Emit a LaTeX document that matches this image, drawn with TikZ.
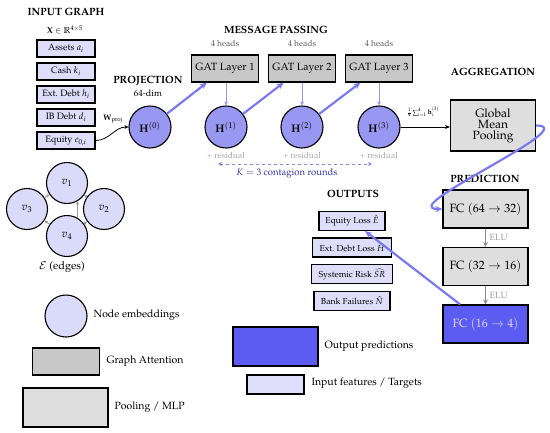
\documentclass[tikz,border=0pt]{standalone}
\usepackage[T1]{fontenc}
\usepackage{amsmath,amssymb}
\usepackage{mathpazo}
\usetikzlibrary{arrows.meta}

\definecolor{lav}{RGB}{222,222,250}
\definecolor{embc}{RGB}{152,152,242}
\definecolor{vcol}{RGB}{218,218,250}
\definecolor{gatc}{RGB}{200,200,200}
\definecolor{poolc}{RGB}{222,222,222}
\definecolor{fcblue}{RGB}{92,92,242}
\definecolor{flowc}{RGB}{122,122,240}
\definecolor{thinc}{RGB}{150,150,240}
\definecolor{kblue}{RGB}{50,50,170}
\definecolor{dashc}{RGB}{130,130,230}

\tikzset{
  ttl/.style={font=\bfseries\fontsize{10.5}{12}\selectfont},
  inbox/.style={draw, line width=1.1, fill=lav, minimum width=58, minimum height=17, inner sep=0, font=\fontsize{9.2}{10}\selectfont},
  outbox/.style={draw, line width=1.1, fill=lav, minimum height=19, inner sep=1, font=\fontsize{8.7}{9}\selectfont},
  embnode/.style={circle, draw, line width=1.1, fill=embc, minimum size=42, inner sep=0, font=\fontsize{11}{13}\selectfont},
  vnode/.style={circle, draw, line width=1.1, fill=vcol, minimum size=41, inner sep=0, font=\fontsize{11}{13}\selectfont},
  gatbox/.style={draw, line width=1.1, fill=gatc, minimum width=67, minimum height=27, inner sep=0, font=\fontsize{10.5}{12}\selectfont},
  poolbox/.style={draw, line width=1.1, fill=poolc, minimum width=85, minimum height=38, inner sep=0, font=\fontsize{12}{13}\selectfont},
  fcblue/.style={draw, line width=1.1, fill=fcblue, minimum width=85, minimum height=38, inner sep=0, font=\fontsize{12}{13}\selectfont, text=vcol},
  heads/.style={font=\fontsize{8.5}{10}\selectfont, text=black!65},
  resid/.style={font=\fontsize{8.5}{10}\selectfont, text=black!35},
  flow/.style={line width=2.2, color=flowc, -{Stealth[length=7,width=6]}},
  thin/.style={line width=0.8, color=thinc, -{Stealth[length=4,width=4]}},
  elu/.style={line width=1.6, color=black!45, -{Stealth[length=5,width=5]}},
  elulbl/.style={right, font=\fontsize{9}{10}\selectfont, text=black!40},
  vedge/.style={line width=0.9, color=black!40, -{Stealth[length=3.5,width=3.5]}},
  legtext/.style={anchor=west, font=\fontsize{10.5}{12}\selectfont},
}

\begin{document}
\begin{tikzpicture}[x=1pt,y=-1pt]
\useasboundingbox (0,0) rectangle (550,432);

% ---- INPUT GRAPH
\node[ttl] (tin) at (66,12) {INPUT GRAPH};
\node[font=\fontsize{8.5}{10}\selectfont] (xin) at (65,30) {$\mathbf{X}\in\mathbb{R}^{4\times5}$};
\node[inbox] (i1) at (66,48.5) {Assets $a_i$};
\node[inbox] (i2) at (66,71.5) {Cash $k_i$};
\node[inbox] (i3) at (66,94.5) {Ext.\ Debt $h_i$};
\node[inbox] (i4) at (66,117.5) {IB Debt $d_i$};
\node[inbox] (i5) at (66,140.5) {Equity $e_{0,i}$};

% graph
\node[vnode] (v1) at (67,183) {$v_1$};
\node[vnode] (v3) at (27,209) {$v_3$};
\node[vnode] (v2) at (104,209) {$v_2$};
\node[vnode] (v4) at (67,236) {$v_4$};
\draw[vedge] (v3) -- (v1);
\draw[vedge] (v2) -- (v1);
\draw[vedge] (v4.60) -- (v1.-60);
\draw[vedge] (v4) -- (v3);
\draw[vedge] (v4) -- (v2);
\node[font=\fontsize{11}{12}\selectfont] (edg) at (62,267) {$\mathcal{E}$ (edges)};

% ---- PROJECTION
\node[ttl] (tproj) at (148,81) {PROJECTION};
\node[font=\fontsize{9}{10}\selectfont] (dim) at (148,93) {64-dim};
\node[embnode] (h0) at (150,127) {$\mathbf{H}^{(0)}$};
\draw[line width=0.8, -{Stealth[length=4,width=4]}] (i5.east) to[out=0,in=180] (h0.west);
\node[font=\fontsize{8}{9}\selectfont, inner sep=0] (wproj) at (113,119) {$\mathbf{W}_{\mathrm{proj}}$};

% ---- MESSAGE PASSING
\node[ttl] (tmp) at (276,30) {MESSAGE PASSING};
\node[gatbox] (g1) at (225,68.5) {GAT Layer 1};
\node[gatbox] (g2) at (302,68.5) {GAT Layer 2};
\node[gatbox] (g3) at (379,68.5) {GAT Layer 3};
\node[heads] (hd1) at (225,44) {4 heads};
\node[heads] (hd2) at (302,44) {4 heads};
\node[heads] (hd3) at (379,44) {4 heads};
\node[embnode] (h1) at (226,127) {$\mathbf{H}^{(1)}$};
\node[embnode] (h2) at (302,127) {$\mathbf{H}^{(2)}$};
\node[embnode] (h3) at (379,127) {$\mathbf{H}^{(3)}$};
\node[resid] (r1) at (226,156) {+ residual};
\node[resid] (r2) at (302,156) {+ residual};
\node[resid] (r3) at (379,156) {+ residual};
\draw[thin] (g1.south -| h1) -- (h1);
\draw[thin] (g2.south -| h2) -- (h2);
\draw[thin] (g3.south -| h3) -- (h3);
\draw[flow] (h0) -- (g1);
\draw[flow] (h1) -- (g2);
\draw[flow] (h2) -- (g3);
\coordinate (kl) at (218,164);
\coordinate (kr) at (372,164);
\draw[dashed, line width=0.9, color=dashc, {Stealth[length=4,width=4]}-{Stealth[length=4,width=4]}] (kl) -- (kr);
\node[font=\fontsize{9.5}{11}\selectfont, text=kblue] (krounds) at (287,173) {$K=3$ contagion rounds};

% ---- AGGREGATION
\node[ttl] (tagg) at (493,72) {AGGREGATION};
\node[poolbox, minimum height=51, align=center] (pool) at (493,125.5) {Global\\[-2pt]Mean\\[-2pt]Pooling};
\draw[line width=0.8, -{Stealth[length=5,width=4]}] (h3.east) -- (h3.east -| pool.west);
\node[font=\fontsize{6.5}{8}\selectfont] (sumlbl) at (423,112) {$\frac{1}{4}\sum_{i=1}^{4}\mathbf{h}_i^{(3)}$};

% ---- PREDICTION
\node[ttl] (tpred) at (485,179) {PREDICTION};
\node[poolbox] (fc1) at (485.5,209) {FC $(64\to32)$};
\node[poolbox] (fc2) at (485.5,266.5) {FC $(32\to16)$};
\node[fcblue] (fc3) at (485.5,324) {FC $(16\to4)$};
\draw[elu] (fc1) -- node[elulbl] {ELU} (fc2);
\draw[elu] (fc2) -- node[elulbl] {ELU} (fc3);
\draw[flow] (pool.east) to[out=0,in=180] (fc1.west);

% ---- OUTPUTS
\node[ttl] (tout) at (353,194) {OUTPUTS};
\node[outbox, minimum width=66] (o1) at (352,221) {Equity Loss $\hat{E}$};
\node[outbox, minimum width=79] (o2) at (352,247.5) {Ext.\ Debt Loss $\hat{H}$};
\node[outbox, minimum width=81] (o3) at (352,274) {Systemic Risk $\widehat{SR}$};
\node[outbox, minimum width=76] (o4) at (352,301) {Bank Failures $\hat{N}$};
\draw[flow] (fc3) -- (o1);

% ---- LEGEND
\node[vnode, minimum size=42] (lg1) at (66,316) {};
\node[legtext] (lt1) at (90,315) {Node embeddings};
\node[gatbox] (lg2) at (66,361.5) {};
\node[legtext] (lt2) at (103,361) {Graph Attention};
\node[poolbox, minimum height=39] (lg3) at (65.5,407.5) {};
\node[legtext] (lt3) at (111,407) {Pooling / MLP};
\node[fcblue, minimum height=39] (lg4) at (275.5,346.5) {};
\node[legtext] (lt4) at (321,346) {Output predictions};
\node[inbox, minimum width=57, minimum height=19] (lg5) at (275.5,384.5) {};
\node[legtext] (lt5) at (308,383) {Input features / Targets};
\end{tikzpicture}
\end{document}
